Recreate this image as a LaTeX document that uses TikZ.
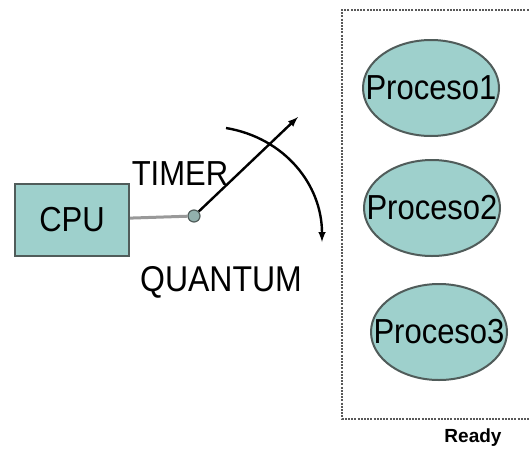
\documentclass[tikz,border=0pt]{standalone}
\usepackage{fontspec}
\usepackage{graphicx}
\setmainfont{Liberation Sans}
\usetikzlibrary{positioning, arrows.meta, shapes.geometric}
\definecolor{cajon}{RGB}{158,208,204}
\definecolor{borde}{RGB}{80,92,90}
\tikzstyle{block}=[draw=borde,line width=2.2pt,fill=cajon,rectangle,minimum width=114pt,minimum height=72pt,inner sep=0pt]
\tikzstyle{proc}=[draw=borde,line width=2pt,fill=cajon,ellipse,minimum width=136pt,minimum height=96pt,inner xsep=-19pt,inner ysep=16pt]
\tikzstyle{every node}=[font=\fontsize{31}{36}\selectfont]
\newcommand{\alto}[1]{\scalebox{1}[1.12]{#1}}

\begin{document}
\begin{tikzpicture}[>=latex, x=1pt, y=-1pt]
            \useasboundingbox (0,0) rectangle (530,453);
            \node[block] (cpu) at (72,220) {\alto{CPU}};
            \node[circle, draw=borde, fill=cajon!60!gray, line width=1.2pt, minimum size=12pt, inner sep=0pt] (perilla) at (194,216) {};
            \node[] (timer) at (180,174) {\alto{TIMER}};
            \node[font=\fontsize{32}{36}\selectfont] (quantum) at (221,282) {\alto{QUANTUM}};
            \coordinate (punta) at (298,117);
            \coordinate (Qini) at (226,128);
            \coordinate (Qfin) at (322,242);
            % cola de listos
            \draw[gray!70!black, line width=1.4pt, dash pattern=on 2pt off 1.2pt] (535,10) -- (342,10) -- (342,419) -- (535,419);
            \node[proc] (p1) at (431,88) {\alto{Proceso1}};
            \node[proc] (p2) at (432,208) {\alto{Proceso2}};
            \node[proc] (p3) at (439,332) {\alto{Proceso3}};
            \node[font=\bfseries\fontsize{19}{22}\selectfont] (ready) at (473,438) {Ready};
            \draw[gray!80, line width=3pt] (cpu) -- (perilla);
            \draw[->, line width=2.4pt] (perilla) -- (punta);
            \draw[->, line width=2.4pt] (Qini) .. controls (285,138) and (322,185) .. (Qfin);
        \end{tikzpicture}
\end{document}
